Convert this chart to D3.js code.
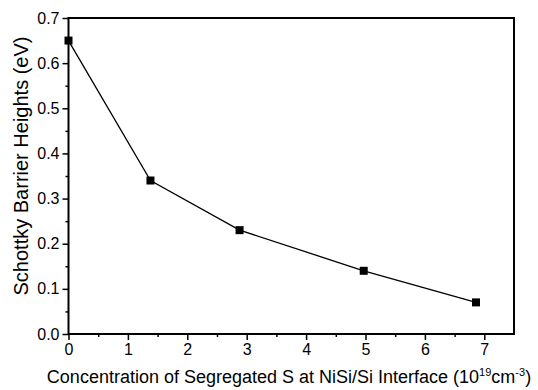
<!DOCTYPE html>
<html>
<head>
<meta charset="utf-8">
<script src="https://cdn.jsdelivr.net/npm/d3@7"></script>
<style>
  body { margin: 0; background: #fff; }
  svg text { font-family: "Liberation Sans", Arial, sans-serif; fill: #000; }
</style>
</head>
<body>
<div id="chart"></div>
<script>
// Données
const concentration = [0, 1.38, 2.88, 4.97, 6.86];
const barrierHeight = [0.65, 0.34, 0.23, 0.14, 0.07];
const xTicks = [0, 1, 2, 3, 4, 5, 6, 7];
const yTicks = [0.0, 0.1, 0.2, 0.3, 0.4, 0.5, 0.6, 0.7];

const W = 538, H = 390;
const margin = { top: 18, right: 24, bottom: 56, left: 68.5 };
const width = W - margin.left - margin.right;
const height = H - margin.top - margin.bottom;

const svg = d3.select('#chart').append('svg')
    .attr('width', W)
    .attr('height', H);

const g = svg.append('g')
    .attr('transform', `translate(${margin.left},${margin.top})`);

const x = d3.scaleLinear().domain([0, 7.5]).range([0, width]);
const y = d3.scaleLinear().domain([0, 0.7]).range([height, 0]);

// Cadre
g.append('rect')
    .attr('width', width)
    .attr('height', height)
    .attr('fill', 'none')
    .attr('stroke', '#000')
    .attr('stroke-width', 2);

// Graduations mineures
g.append('g')
    .attr('transform', `translate(0,${height})`)
    .call(d3.axisBottom(x).tickValues(d3.range(0.5, 7.5, 1)).tickSize(3).tickFormat(''))
    .call(a => a.select('.domain').remove())
    .selectAll('line').attr('stroke-width', 1.5);

g.append('g')
    .call(d3.axisLeft(y).tickValues(d3.range(0.05, 0.7, 0.1)).tickSize(3).tickFormat(''))
    .call(a => a.select('.domain').remove())
    .selectAll('line').attr('stroke-width', 1.5);

// Axes principaux
const xAxis = g.append('g')
    .attr('transform', `translate(0,${height})`)
    .call(d3.axisBottom(x).tickValues(xTicks).tickSize(6).tickPadding(4).tickFormat(d3.format('d')))
    .call(a => a.select('.domain').remove());
xAxis.selectAll('line').attr('stroke-width', 1.5);
xAxis.selectAll('text').style('font-size', '16px').attr('fill', '#000');

const yAxis = g.append('g')
    .call(d3.axisLeft(y).tickValues(yTicks).tickSize(6).tickPadding(3).tickFormat(d3.format('.1f')))
    .call(a => a.select('.domain').remove());
yAxis.selectAll('line').attr('stroke-width', 1.5);
yAxis.selectAll('text').style('font-size', '16px').attr('fill', '#000');

// Courbe
const pts = concentration.map((c, i) => [c, barrierHeight[i]]);

g.append('path')
    .datum(pts)
    .attr('fill', 'none')
    .attr('stroke', '#000')
    .attr('stroke-width', 1.3)
    .attr('d', d3.line().x(d => x(d[0])).y(d => y(d[1])));

g.selectAll('.pt')
    .data(pts)
    .join('rect')
    .attr('class', 'pt')
    .attr('x', d => x(d[0]) - 4)
    .attr('y', d => y(d[1]) - 4)
    .attr('width', 8)
    .attr('height', 8)
    .attr('fill', '#000');

// Titres des axes
const xl = svg.append('text')
    .attr('x', 289)
    .attr('y', 383)
    .attr('text-anchor', 'middle')
    .style('font-size', '18px');
xl.append('tspan').text('Concentration of Segregated S at NiSi/Si Interface (10');
xl.append('tspan').attr('dy', -7).style('font-size', '11px').text('19');
xl.append('tspan').attr('dy', 7).text('cm');
xl.append('tspan').attr('dy', -7).style('font-size', '11px').text('-3');
xl.append('tspan').attr('dy', 7).text(')');

svg.append('text')
    .attr('transform', 'translate(28,166) rotate(-90)')
    .attr('text-anchor', 'middle')
    .style('font-size', '20px')
    .text('Schottky Barrier Heights (eV)');
</script>
</body>
</html>
